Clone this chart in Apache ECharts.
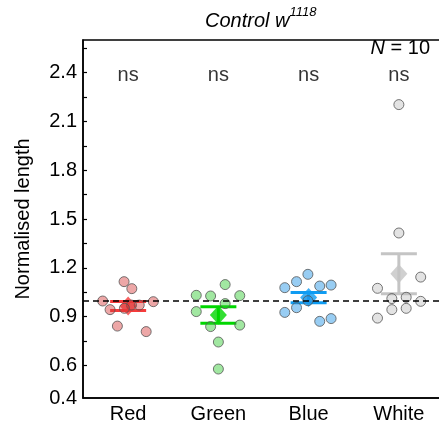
<html>
<head>
<meta charset="utf-8">
<title>Control w1118</title>
<script src="https://cdn.jsdelivr.net/npm/echarts@6/dist/echarts.min.js"></script>
<style>html,body{margin:0;padding:0;background:#fff;}</style>
</head>
<body>
<div id="main" style="width:439px;height:427px;"></div>
<script type="text/javascript">
var categories = ['Red', 'Green', 'Blue', 'White'];
var sigLabels = ['ns', 'ns', 'ns', 'ns'];

// individual flies, normalised length
var redVals   = [1.115, 1.072, 0.996, 0.992, 0.943, 0.971, 0.971, 0.951, 0.842, 0.808];
var greenVals = [1.097, 1.031, 1.027, 1.029, 0.980, 0.931, 0.839, 0.848, 0.744, 0.578];
var blueVals  = [1.160, 1.115, 1.078, 1.088, 1.094, 0.998, 0.955, 0.926, 0.871, 0.888];
var whiteVals = [2.203, 1.414, 1.143, 1.074, 1.011, 1.019, 0.994, 0.943, 0.951, 0.891];

// horizontal jitter (category units)
var redJit   = [-0.045, 0.041, -0.282, 0.279, -0.2, 0.123, 0.037, -0.041, -0.119, 0.2];
var greenJit = [0.075, -0.245, -0.086, 0.237, 0.075, -0.245, -0.086, 0.237, 0, 0];
var blueJit  = [-0.008, -0.134, -0.264, 0.123, 0.249, -0.008, -0.134, -0.264, 0.123, 0.249];
var whiteJit = [0, 0, 0.242, -0.237, -0.078, 0.081, 0.242, -0.078, 0.081, -0.237];

var means = [0.965, 0.910, 1.017, 1.164];
var sems  = [0.028, 0.051, 0.031, 0.123];

var yLabelVals = [0.4, 0.6, 0.9, 1.2, 1.5, 1.8, 2.1, 2.4];
var yTickVals = [0.6, 0.75, 0.9, 1.05, 1.2, 1.35, 1.5, 1.65, 1.8, 1.95, 2.1, 2.25, 2.4, 2.55];

var mainColors = ['#F53B3B', '#00D600', '#0F9CF2', '#C4C4C4'];
var dotColors = ['rgba(215,55,55,0.55)', 'rgba(40,200,40,0.55)', 'rgba(40,150,230,0.6)', 'rgba(185,185,185,0.5)'];

var groups = [redVals, greenVals, blueVals, whiteVals];
var jits = [redJit, greenJit, blueJit, whiteJit];

var FONT = 'Liberation Sans';
var myChart = echarts.init(document.getElementById('main'));

var series = [];

// error bars
series.push({
    type: 'custom',
    xAxisIndex: 1,
    z: 2,
    data: means.map(function (m, i) { return [i + 1, m - sems[i], m + sems[i]]; }),
    renderItem: function (params, api) {
        var x = api.value(0);
        var lo = api.coord([x, api.value(1)]);
        var hi = api.coord([x, api.value(2)]);
        var hw = 18;
        var st = { stroke: mainColors[params.dataIndex], lineWidth: 3 };
        return {
            type: 'group',
            children: [
                { type: 'line', shape: { x1: lo[0], y1: lo[1], x2: hi[0], y2: hi[1] }, style: st },
                { type: 'line', shape: { x1: lo[0] - hw, y1: lo[1], x2: lo[0] + hw, y2: lo[1] }, style: st },
                { type: 'line', shape: { x1: hi[0] - hw, y1: hi[1], x2: hi[0] + hw, y2: hi[1] }, style: st }
            ]
        };
    }
});

// means
series.push({
    type: 'scatter',
    xAxisIndex: 1,
    z: 3,
    symbol: 'diamond',
    symbolSize: [17, 19],
    data: means.map(function (m, i) {
        return { value: [i + 1, m], itemStyle: { color: mainColors[i] } };
    }),
    markLine: {
        silent: true,
        symbol: 'none',
        label: { show: false },
        lineStyle: { color: '#000', type: [6, 4], width: 1.5 },
        data: [{ yAxis: 1 }]
    }
});

// individual points
groups.forEach(function (vals, g) {
    series.push({
        type: 'scatter',
        xAxisIndex: 1,
        z: 4,
        symbolSize: 10,
        itemStyle: { color: dotColors[g], borderColor: '#555', borderWidth: 1 },
        data: vals.map(function (v, k) { return [g + 1 + jits[g][k], v]; })
    });
});

// significance labels
series.push({
    type: 'scatter',
    xAxisIndex: 1,
    symbolSize: 0,
    z: 5,
    label: {
        show: true, position: 'inside', color: '#000',
        fontFamily: FONT, fontSize: 20,
        formatter: function (p) { return sigLabels[p.dataIndex]; }
    },
    data: sigLabels.map(function (s, i) { return [i + 1, 2.38]; })
});

var option = {
    animation: false,
    grid: {
        left: 83, right: -5, top: 40, bottom: 29,
        outerBoundsMode: 'none',
        containLabel: false,
        show: true, borderColor: '#000', borderWidth: 1.5
    },
    graphic: [
        {
            type: 'text', left: 205, top: 6,
            style: {
                text: '{a|Control w}{b|1118}',
                rich: {
                    a: { fontFamily: FONT, fontStyle: 'italic', fontSize: 20, fill: '#000' },
                    b: { fontFamily: FONT, fontStyle: 'italic', fontSize: 13, fill: '#000', padding: [0, 0, 17, 0] }
                }
            }
        },
        {
            type: 'text', right: 9, top: 38,
            style: {
                text: '{i|N} = 10',
                fontFamily: FONT, fontSize: 20, fill: '#000',
                rich: { i: { fontFamily: FONT, fontStyle: 'italic', fontSize: 20, fill: '#000' } }
            }
        }
    ],
    xAxis: [
        {
            type: 'category',
            data: categories,
            boundaryGap: true,
            axisLine: { lineStyle: { color: '#000', width: 1.5 } },
            axisTick: { inside: true, alignWithLabel: true, length: 5, lineStyle: { color: '#000', width: 1.2 } },
            axisLabel: { color: '#000', fontFamily: FONT, fontSize: 20, margin: 6 },
            splitLine: { show: false }
        },
        {
            type: 'value', min: 0.5, max: 4.5, show: false,
            splitLine: { show: false }
        }
    ],
    yAxis: {
        type: 'value',
        min: 0.4, max: 2.6,
        name: 'Normalised length',
        nameLocation: 'middle',
        nameGap: 50,
        nameRotate: 90,
        nameTextStyle: { color: '#000', fontFamily: FONT, fontSize: 20 },
        axisLine: { show: true, lineStyle: { color: '#000', width: 1.5 } },
        axisTick: { show: true, inside: true, length: 4, customValues: yTickVals, lineStyle: { color: '#000', width: 1.2 } },
        axisLabel: { color: '#000', fontFamily: FONT, fontSize: 20, margin: 6, customValues: yLabelVals,
            formatter: function (v) { return v.toFixed(1); } },
        splitLine: { show: false }
    },
    series: series
};
myChart.setOption(option);
</script>
</body>
</html>
